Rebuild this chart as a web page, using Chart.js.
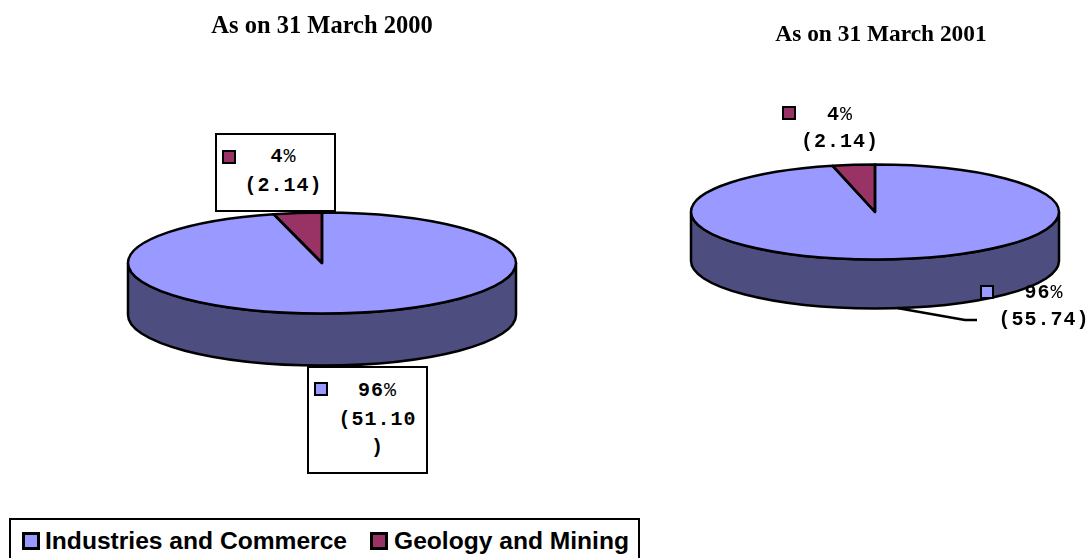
<!DOCTYPE html>
<html lang="en">
<head>
  <meta charset="UTF-8">
  <title>Pie Charts - As on 31 March 2000 and 2001</title>
  <script src="https://cdn.jsdelivr.net/npm/chart.js"></script>
  <style>
    html, body { margin: 0; padding: 0; background: #fff; }
    body { position: relative; width: 1087px; height: 558px; overflow: hidden; }
    canvas { position: absolute; }
    .title {
      position: absolute; width: 300px; text-align: center; white-space: nowrap;
      font: bold 24.5px "Liberation Serif", serif; color: #000;
    }
    .callout {
      position: absolute; box-sizing: border-box; text-align: center; color: #000;
      font: bold 20px/27px "Liberation Mono", monospace; letter-spacing: 1px;
    }
    .callout.boxed { background: #fff; border: 2.5px solid #000; line-height: 28.5px; }
    .callout span { display: block; word-break: break-all; line-break: anywhere; }
    .callout em { font-style: normal; font-weight: normal; }
    .swatch { position: absolute; box-sizing: border-box; width: 14px; height: 14px; border: 2.5px solid #000; }
    #legend {
      position: absolute; left: 9px; top: 518px; width: 631px; height: 60px; box-sizing: border-box;
      border: 2.5px solid #000; background: #fff;
      font: bold 24.6px "Liberation Sans", Arial, sans-serif; color: #000;
    }
    #legend i { position: absolute; top: 12px; width: 18px; height: 18px; box-sizing: border-box; border: 3px solid #000; }
    #legend b { position: absolute; top: 7px; white-space: nowrap; }
  </style>
</head>
<body>
  <canvas id="pie2000" width="644" height="526" style="left:0;top:0"></canvas>
  <canvas id="pie2001" width="424" height="424" style="left:663px;top:0"></canvas>

  <div class="title" style="left:172px;top:11px" id="title2000"></div>
  <div class="title" style="left:731px;top:20px;font-size:23.4px" id="title2001"></div>
  <div id="legend"></div>

  <script>
    // Data
    const categories = ['Industries and Commerce', 'Geology and Mining'];
    const titles = ['As on 31 March 2000', 'As on 31 March 2001'];
    const values2000 = [51.10, 2.14];
    const values2001 = [55.74, 2.14];
    const percents = [96, 4];

    const topColors = ['#9999ff', '#993366'];
    const wallColor = '#4d4d80';
    const outline = 2.5;

    // Squashes the round pie into an ellipse and adds the side wall and outlines
    const tiltPlugin = {
      id: 'tilt',
      beforeDatasetsDraw(chart, args, opts) {
        const ctx = chart.ctx;
        const arc = chart.getDatasetMeta(0).data[0];
        const rx = arc.outerRadius, ry = rx * opts.ratio;
        ctx.save();
        ctx.beginPath();
        ctx.ellipse(arc.x, arc.y, rx, ry, 0, 0, Math.PI);
        ctx.lineTo(arc.x - rx, arc.y + opts.depth);
        ctx.ellipse(arc.x, arc.y + opts.depth, rx, ry, 0, Math.PI, 0, true);
        ctx.closePath();
        ctx.fillStyle = wallColor;
        ctx.fill();
        ctx.strokeStyle = '#000';
        ctx.lineWidth = outline;
        ctx.stroke();
        ctx.restore();

        ctx.save();
        ctx.translate(arc.x, arc.y);
        ctx.scale(1, opts.ratio);
        ctx.translate(-arc.x, -arc.y);
      },
      afterDatasetsDraw(chart, args, opts) {
        const ctx = chart.ctx;
        ctx.restore();
        ctx.save();
        ctx.strokeStyle = '#000';
        ctx.lineWidth = outline;
        ctx.lineJoin = 'round';
        chart.getDatasetMeta(0).data.forEach(arc => {
          const rx = arc.outerRadius, ry = rx * opts.ratio;
          ctx.beginPath();
          ctx.moveTo(arc.x, arc.y);
          ctx.ellipse(arc.x, arc.y, rx, ry, 0, arc.startAngle, arc.endAngle);
          ctx.closePath();
          ctx.stroke();
        });
        if (opts.leader) {
          const arc = chart.getDatasetMeta(0).data[0];
          ctx.beginPath();
          opts.leader.forEach(p => ctx.lineTo(arc.x + p[0], arc.y + p[1]));
          ctx.stroke();
        }
        ctx.restore();
      }
    };

    function makePie(id, values, radius, ratio, depth, leader) {
      return new Chart(document.getElementById(id), {
        type: 'pie',
        data: {
          labels: categories,
          datasets: [{ data: values, backgroundColor: topColors, borderWidth: 0 }]
        },
        options: {
          responsive: false,
          animation: false,
          radius: radius,
          layout: { padding: 0 },
          plugins: {
            legend: { display: false },
            tooltip: { enabled: false },
            tilt: { ratio: ratio, depth: depth, leader: leader }
          }
        },
        plugins: [tiltPlugin]
      });
    }

    makePie('pie2000', values2000, 194, 0.26, 52);
    makePie('pie2001', values2001, 184, 0.258, 49, [[22, 96], [90, 108], [102, 108]]);

    document.getElementById('title2000').textContent = titles[0];
    document.getElementById('title2001').textContent = titles[1];

    function addCallout(i, values, left, top, width, height, padding, boxed, sx, sy) {
      const box = document.createElement('div');
      box.className = 'callout' + (boxed ? ' boxed' : '');
      box.style.cssText = `left:${left}px;top:${top}px;width:${width}px;height:${height}px;padding:${padding}`;
      const a = document.createElement('span');
      const pct = document.createElement('em');
      pct.textContent = '%';
      a.append(percents[i], pct);
      const b = document.createElement('span');
      b.textContent = '(' + values[i].toFixed(2) + ')';
      box.append(a, b);
      document.body.appendChild(box);
      const sw = document.createElement('div');
      sw.className = 'swatch';
      sw.style.cssText = `left:${sx}px;top:${sy}px;background:${topColors[i]}`;
      document.body.appendChild(sw);
    }

    addCallout(1, values2000, 215, 133, 121, 79, '8px 0 0 16px', true, 222, 150);
    addCallout(0, values2000, 307, 366, 121, 108, '9px 8px 0 28px', true, 314, 382);
    addCallout(1, values2001, 795, 101, 90, 60, '0', false, 782, 106);
    addCallout(0, values2001, 990, 279, 108, 60, '0', false, 980, 285);

    // Legend box along the bottom
    const legendEl = document.getElementById('legend');
    const legendX = [[11, 34], [359, 383]];
    categories.forEach((name, i) => {
      const sw = document.createElement('i');
      sw.style.left = legendX[i][0] + 'px';
      sw.style.background = topColors[i];
      const txt = document.createElement('b');
      txt.style.left = legendX[i][1] + 'px';
      txt.textContent = name;
      legendEl.append(sw, txt);
    });
  </script>
</body>
</html>
